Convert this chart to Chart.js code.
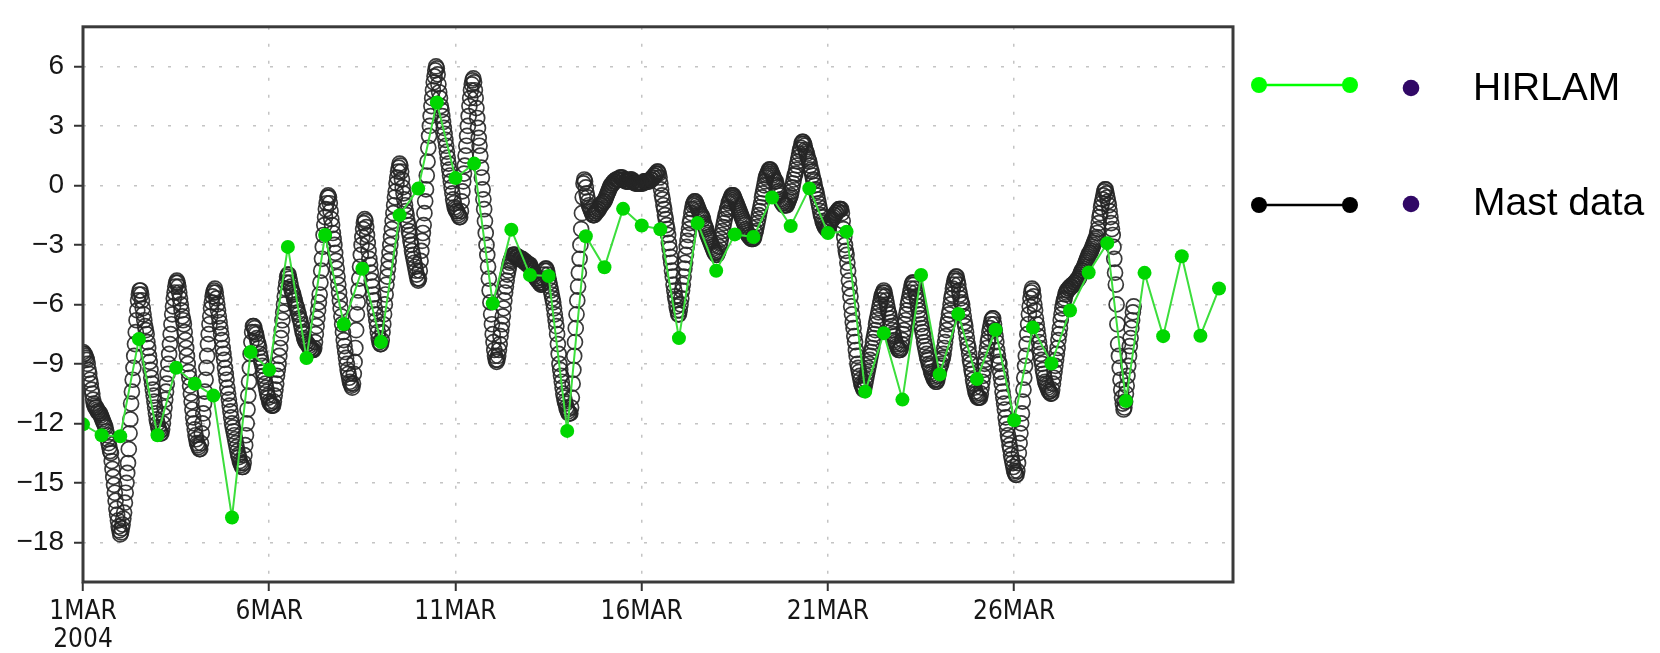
<!DOCTYPE html>
<html>
<head>
<meta charset="utf-8">
<title>HIRLAM vs mast temperature, March 2004</title>
<script src="https://cdn.jsdelivr.net/npm/chart.js@4.4.1/dist/chart.umd.min.js"></script>
<style>
  html, body { margin: 0; padding: 0; background: #fff; }
  #wrap { width: 1660px; height: 653px; }
</style>
</head>
<body>
<div id="wrap"><canvas id="myChart" width="1660" height="653"></canvas></div>
<script>
function $(id) {
  return document.getElementById(id);
}

// x = days since 1 MAR 2004 00Z
const seriesNames = ["HIRLAM", "Mast data"];
const xTickDays = [0, 5, 10, 15, 20, 25];
const xTickLabels = [["1MAR", "2004"], "6MAR", "11MAR", "16MAR", "21MAR", "26MAR"];
const yTickValues = [-18, -15, -12, -9, -6, -3, 0, 3, 6];

// HIRLAM, every 12 h from 1 MAR 00Z
const hirlamTemp = [
  -12.05, -12.6, -12.65, -7.75, -12.6, -9.2, -10.0, -10.6, -16.75, -8.4,
  -9.3, -3.1, -8.7, -2.5, -7.0, -4.2, -7.9, -1.5, -0.16, 4.18,
  0.37, 1.1, -5.95, -2.23, -4.52, -4.57, -12.38, -2.56, -4.13, -1.18,
  -2.02, -2.21, -7.7, -1.9, -4.3, -2.47, -2.6, -0.61, -2.05, -0.15,
  -2.4, -2.33, -10.4, -7.45, -10.8, -4.52, -9.53, -6.48, -9.76, -7.28,
  -11.84, -7.17, -8.98, -6.31, -4.39, -2.91, -10.87, -4.41, -7.6, -3.57,
  -7.58, -5.2
];

// mast, every 30 min from 1 MAR 00Z, one row per day
const mastTemp = [
  -8.4,-8.5,-8.5,-8.6,-8.7,-8.8,-9.0,-9.3,-9.5,-9.8,-10.0,-10.3,-10.5,-10.8,-11.0,-11.1,-11.2,-11.2,-11.3,-11.4,-11.4,-11.5,-11.5,-11.6,-11.7,-11.8,-11.9,-12.0,-12.1,-12.2,-12.4,-12.6,-12.8,-13.0,-13.2,-13.4,-13.5,-13.9,-14.3,-14.7,-15.1,-15.5,-15.9,-16.3,-16.6,-16.9,-17.2,-17.4,
  -17.6,-17.5,-17.3,-17.1,-16.8,-16.5,-16.0,-15.5,-15.0,-14.5,-14.0,-13.3,-12.5,-11.8,-11.0,-10.4,-9.8,-9.2,-8.6,-8.0,-7.4,-6.8,-6.3,-5.8,-5.5,-5.3,-5.3,-5.5,-5.8,-6.2,-6.5,-6.8,-7.1,-7.3,-7.5,-7.9,-8.2,-8.6,-8.9,-9.3,-9.7,-10.0,-10.3,-10.6,-10.9,-11.2,-11.5,-11.8,
  -12.0,-12.2,-12.3,-12.4,-12.5,-12.5,-12.3,-12.0,-11.6,-11.2,-10.8,-10.4,-10.0,-9.5,-9.0,-8.5,-8.0,-7.5,-7.0,-6.5,-6.1,-5.7,-5.4,-5.1,-4.9,-4.8,-4.9,-5.1,-5.4,-5.7,-6.0,-6.3,-6.6,-6.8,-7.0,-7.4,-7.8,-8.2,-8.6,-9.0,-9.4,-9.7,-10.1,-10.5,-10.9,-11.3,-11.7,-12.0,
  -12.3,-12.6,-12.8,-13.0,-13.1,-13.2,-13.3,-13.3,-13.0,-12.5,-12.0,-11.5,-11.0,-10.4,-9.8,-9.2,-8.6,-8.0,-7.5,-7.0,-6.6,-6.2,-5.9,-5.6,-5.4,-5.3,-5.2,-5.4,-5.7,-6.0,-6.3,-6.6,-6.9,-7.2,-7.5,-7.8,-8.2,-8.5,-8.8,-9.2,-9.5,-9.8,-10.2,-10.5,-10.8,-11.1,-11.4,-11.7,
  -12.0,-12.2,-12.4,-12.6,-12.8,-13.0,-13.2,-13.4,-13.6,-13.7,-13.9,-14.0,-14.1,-14.2,-14.2,-14.0,-13.6,-13.1,-12.6,-12.0,-11.3,-10.6,-9.9,-9.2,-8.5,-7.9,-7.4,-7.1,-7.1,-7.2,-7.4,-7.5,-7.7,-7.9,-8.0,-8.2,-8.5,-8.7,-8.9,-9.1,-9.4,-9.6,-9.8,-10.0,-10.2,-10.4,-10.6,-10.7,
  -10.9,-11.0,-11.0,-11.1,-11.1,-11.1,-10.9,-10.6,-10.3,-10.0,-9.6,-9.3,-9.0,-8.6,-8.2,-7.7,-7.3,-6.8,-6.4,-6.0,-5.6,-5.2,-4.9,-4.6,-4.5,-4.5,-4.7,-4.9,-5.1,-5.3,-5.4,-5.5,-5.7,-5.8,-6.0,-6.1,-6.2,-6.4,-6.5,-6.7,-6.8,-7.0,-7.2,-7.4,-7.5,-7.7,-7.8,-7.9,
  -7.9,-8.0,-8.0,-8.1,-8.2,-8.2,-8.3,-8.3,-8.3,-8.3,-8.2,-7.9,-7.5,-7.1,-6.7,-6.3,-5.9,-5.5,-4.9,-4.3,-3.7,-3.1,-2.5,-2.0,-1.6,-1.2,-0.9,-0.6,-0.5,-0.6,-0.9,-1.3,-1.7,-2.0,-2.4,-2.7,-3.0,-3.4,-3.8,-4.2,-4.6,-5.0,-5.4,-5.8,-6.2,-6.6,-7.0,-7.4,
  -7.8,-8.1,-8.4,-8.7,-9.0,-9.3,-9.5,-9.7,-9.9,-10.0,-10.1,-10.2,-10.0,-9.5,-8.9,-8.2,-7.3,-6.5,-5.9,-5.3,-4.7,-4.1,-3.5,-3.0,-2.6,-2.2,-1.9,-1.7,-1.8,-2.1,-2.5,-2.9,-3.3,-3.7,-4.0,-4.4,-4.8,-5.1,-5.5,-5.8,-6.2,-6.5,-6.8,-7.1,-7.4,-7.7,-7.9,-8.0,
  -8.0,-7.8,-7.4,-7.0,-6.5,-6.0,-5.5,-5.0,-4.6,-4.2,-3.8,-3.4,-3.0,-2.6,-2.2,-1.8,-1.4,-1.0,-0.6,-0.3,0.1,0.4,0.7,0.9,1.1,1.0,0.7,0.3,-0.1,-0.4,-0.7,-1.0,-1.3,-1.5,-1.8,-2.0,-2.3,-2.5,-2.8,-3.0,-3.3,-3.5,-3.7,-3.9,-4.1,-4.3,-4.5,-4.7,
  -4.8,-4.7,-4.3,-3.8,-3.3,-2.8,-2.4,-2.0,-1.4,-0.8,-0.2,0.5,1.2,1.9,2.5,3.0,3.5,4.0,4.4,4.8,5.2,5.5,5.8,6.0,5.9,5.6,5.1,4.7,4.4,4.0,3.8,3.5,3.2,2.9,2.6,2.3,2.0,1.7,1.4,1.1,0.8,0.5,0.2,-0.1,-0.4,-0.7,-0.9,-1.1,
  -1.2,-1.3,-1.3,-1.4,-1.5,-1.6,-1.6,-1.3,-0.8,-0.3,0.2,0.6,1.0,1.5,2.0,2.5,3.0,3.5,4.0,4.4,4.8,5.1,5.3,5.4,5.2,4.8,4.4,3.9,3.4,2.9,2.4,2.0,1.5,0.9,0.4,-0.2,-0.7,-1.2,-1.8,-2.4,-3.0,-3.5,-4.1,-4.7,-5.3,-5.9,-6.5,-7.0,
  -7.5,-7.9,-8.3,-8.6,-8.8,-8.9,-8.8,-8.6,-8.3,-8.0,-7.6,-7.3,-7.0,-6.6,-6.2,-5.8,-5.4,-5.1,-4.8,-4.5,-4.3,-4.1,-3.9,-3.8,-3.7,-3.6,-3.5,-3.5,-3.5,-3.5,-3.6,-3.6,-3.6,-3.6,-3.7,-3.7,-3.7,-3.7,-3.7,-3.8,-3.8,-3.8,-3.9,-3.9,-3.9,-4.0,-4.0,-4.0,
  -4.0,-4.1,-4.2,-4.3,-4.4,-4.5,-4.5,-4.6,-4.7,-4.7,-4.8,-4.8,-4.9,-4.9,-5.0,-5.0,-4.9,-4.7,-4.5,-4.3,-4.2,-4.2,-4.3,-4.5,-4.7,-4.9,-5.1,-5.3,-5.5,-5.7,-5.9,-6.2,-6.5,-6.8,-7.1,-7.5,-8.0,-8.5,-9.0,-9.3,-9.6,-9.9,-10.2,-10.5,-10.7,-10.9,-11.0,-11.2,
  -11.3,-11.4,-11.5,-11.5,-11.5,-11.2,-10.7,-10.0,-9.3,-8.6,-7.9,-7.2,-6.5,-5.8,-5.1,-4.4,-3.7,-3.0,-2.2,-1.4,-0.6,0.1,0.3,0.2,-0.1,-0.4,-0.6,-0.8,-1.0,-1.1,-1.2,-1.3,-1.4,-1.5,-1.5,-1.5,-1.4,-1.4,-1.3,-1.3,-1.2,-1.2,-1.1,-1.0,-1.0,-0.9,-0.9,-0.8,
  -0.8,-0.7,-0.6,-0.5,-0.4,-0.3,-0.2,-0.1,0.0,0.0,0.1,0.1,0.2,0.2,0.2,0.3,0.3,0.3,0.3,0.3,0.4,0.4,0.4,0.4,0.3,0.3,0.3,0.2,0.2,0.2,0.2,0.2,0.2,0.3,0.3,0.3,0.2,0.2,0.2,0.1,0.1,0.1,0.1,0.1,0.1,0.1,0.1,0.1,
  0.1,0.1,0.1,0.2,0.2,0.2,0.2,0.2,0.2,0.2,0.2,0.3,0.3,0.3,0.4,0.4,0.5,0.5,0.6,0.6,0.7,0.7,0.6,0.4,0.1,-0.2,-0.5,-0.7,-1.0,-1.2,-1.5,-1.7,-2.0,-2.2,-2.5,-2.9,-3.2,-3.6,-3.9,-4.3,-4.6,-5.0,-5.3,-5.6,-5.8,-6.1,-6.3,-6.5,
  -6.5,-6.3,-6.0,-5.7,-5.3,-5.0,-4.6,-4.2,-3.9,-3.5,-3.1,-2.8,-2.5,-2.2,-1.9,-1.7,-1.4,-1.2,-1.0,-0.9,-0.8,-0.8,-0.9,-1.0,-1.1,-1.2,-1.3,-1.4,-1.5,-1.5,-1.6,-1.7,-1.9,-2.0,-2.1,-2.2,-2.4,-2.5,-2.6,-2.7,-2.8,-2.9,-3.0,-3.1,-3.2,-3.3,-3.4,-3.4,
  -3.5,-3.5,-3.4,-3.3,-3.1,-2.9,-2.7,-2.5,-2.3,-2.1,-1.9,-1.7,-1.5,-1.4,-1.2,-1.1,-0.9,-0.8,-0.7,-0.6,-0.5,-0.5,-0.5,-0.6,-0.7,-0.8,-0.9,-1.0,-1.1,-1.2,-1.3,-1.4,-1.5,-1.6,-1.7,-1.8,-1.9,-2.0,-2.2,-2.3,-2.4,-2.5,-2.5,-2.6,-2.6,-2.7,-2.7,-2.7,
  -2.7,-2.6,-2.4,-2.3,-2.1,-1.9,-1.7,-1.5,-1.3,-1.1,-0.9,-0.6,-0.4,-0.2,0.0,0.2,0.4,0.5,0.6,0.7,0.8,0.8,0.8,0.7,0.6,0.5,0.4,0.3,0.2,0.2,0.0,-0.1,-0.3,-0.4,-0.5,-0.7,-0.8,-0.9,-0.9,-1.0,-1.0,-1.0,-1.0,-1.0,-0.9,-0.8,-0.7,-0.6,
  -0.5,-0.3,-0.1,0.1,0.3,0.5,0.6,0.8,1.0,1.2,1.4,1.6,1.8,1.9,2.1,2.2,2.2,2.1,2.0,1.8,1.7,1.6,1.4,1.3,1.2,1.0,0.8,0.7,0.5,0.3,0.2,0.0,-0.2,-0.3,-0.5,-0.7,-0.9,-1.1,-1.3,-1.5,-1.6,-1.8,-1.9,-2.0,-2.1,-2.1,-2.2,-2.2,
  -2.2,-2.1,-2.0,-1.9,-1.8,-1.7,-1.7,-1.6,-1.5,-1.5,-1.4,-1.4,-1.3,-1.3,-1.2,-1.2,-1.2,-1.2,-1.4,-1.8,-2.2,-2.6,-3.0,-3.3,-3.5,-3.9,-4.3,-4.8,-5.2,-5.6,-6.1,-6.5,-6.9,-7.2,-7.6,-7.9,-8.3,-8.6,-9.0,-9.2,-9.4,-9.6,-9.8,-10.0,-10.1,-10.2,-10.3,-10.2,
  -10.0,-9.8,-9.6,-9.4,-9.2,-9.0,-8.8,-8.6,-8.4,-8.2,-7.9,-7.7,-7.5,-7.3,-7.0,-6.8,-6.6,-6.4,-6.2,-6.0,-5.8,-5.6,-5.5,-5.4,-5.3,-5.4,-5.6,-5.8,-6.0,-6.2,-6.4,-6.5,-6.7,-6.9,-7.1,-7.3,-7.5,-7.6,-7.8,-7.9,-8.0,-8.1,-8.2,-8.3,-8.3,-8.3,-8.2,-8.0,
  -7.8,-7.5,-7.3,-7.0,-6.8,-6.5,-6.3,-6.0,-5.8,-5.6,-5.4,-5.2,-5.0,-4.9,-4.9,-5.0,-5.2,-5.4,-5.6,-5.8,-6.1,-6.3,-6.5,-6.7,-7.0,-7.2,-7.4,-7.6,-7.9,-8.1,-8.3,-8.5,-8.7,-8.8,-9.0,-9.1,-9.2,-9.4,-9.5,-9.6,-9.7,-9.8,-9.8,-9.9,-9.9,-9.8,-9.6,-9.4,
  -9.2,-9.1,-9.0,-8.8,-8.7,-8.5,-8.2,-7.9,-7.6,-7.3,-7.0,-6.8,-6.5,-6.3,-6.0,-5.7,-5.5,-5.2,-5.0,-4.8,-4.7,-4.6,-4.6,-4.8,-5.0,-5.3,-5.5,-5.7,-5.9,-6.0,-6.3,-6.6,-6.9,-7.1,-7.4,-7.7,-8.0,-8.2,-8.5,-8.8,-9.0,-9.3,-9.5,-9.8,-10.0,-10.2,-10.4,-10.5,
  -10.6,-10.7,-10.7,-10.7,-10.7,-10.5,-10.2,-9.9,-9.6,-9.3,-9.0,-8.8,-8.5,-8.2,-7.9,-7.7,-7.4,-7.2,-7.0,-6.8,-6.7,-6.7,-7.0,-7.3,-7.6,-7.9,-8.3,-8.6,-8.9,-9.0,-9.4,-9.7,-10.0,-10.4,-10.7,-11.0,-11.3,-11.7,-12.0,-12.3,-12.6,-12.8,-13.1,-13.3,-13.6,-13.8,-14.0,-14.2,
  -14.4,-14.5,-14.6,-14.6,-14.4,-14.0,-13.5,-13.0,-12.5,-12.0,-11.5,-10.9,-10.3,-9.7,-9.1,-8.6,-8.0,-7.5,-7.0,-6.5,-6.1,-5.7,-5.4,-5.2,-5.3,-5.6,-6.0,-6.3,-6.7,-7.0,-7.3,-7.6,-7.9,-8.2,-8.5,-8.8,-9.0,-9.3,-9.5,-9.7,-9.9,-10.0,-10.1,-10.2,-10.3,-10.4,-10.4,-10.5,
  -10.5,-10.3,-10.0,-9.7,-9.4,-9.1,-8.8,-8.5,-8.2,-7.8,-7.5,-7.2,-6.8,-6.5,-6.2,-6.0,-5.8,-5.7,-5.5,-5.4,-5.3,-5.3,-5.2,-5.2,-5.1,-5.1,-5.1,-5.0,-5.0,-5.0,-4.9,-4.9,-4.8,-4.8,-4.7,-4.7,-4.6,-4.5,-4.4,-4.3,-4.3,-4.2,-4.1,-4.0,-3.9,-3.8,-3.7,-3.6,
  -3.5,-3.4,-3.4,-3.3,-3.2,-3.1,-3.0,-2.9,-2.8,-2.7,-2.6,-2.4,-2.2,-1.9,-1.6,-1.4,-1.1,-0.9,-0.7,-0.5,-0.3,-0.2,-0.2,-0.4,-0.6,-0.8,-1.0,-1.3,-1.6,-1.9,-2.2,-2.5,-3.1,-3.7,-4.4,-5.0,-6.0,-7.0,-8.0,-8.6,-9.2,-9.8,-10.3,-10.7,-11.0,-11.3,-11.2,-10.9,
  -10.5,-10.1,-9.6,-9.1,-8.6,-8.1,-7.7,-7.2,-6.8,-6.4,-6.1
];

const HIRLAM_STEP = 0.5;    // days
const MAST_STEP = 1 / 48;   // days

// Global Options
let cd = Chart.defaults;
cd.font.family = '"Liberation Sans", Arial, sans-serif';
cd.font.size = 28;
cd.color = "#161616";
cd.animation = false;

let myChart = null;

// plot frame + the legend on the right
const frameAndLegend = {
  id: "frameAndLegend",
  afterDraw(chart) {
    const c = chart.ctx;
    const a = chart.chartArea;
    c.save();
    c.strokeStyle = "#3a3a3a";
    c.lineWidth = 3;
    c.strokeRect(a.left, a.top, a.right - a.left, a.bottom - a.top);

    const rows = [
      { y: 85, dotY: 88, textY: 100, color: "#00ff00" },
      { y: 205, dotY: 204, textY: 215, color: "#000000" }
    ];
    rows.forEach((row, i) => {
      c.strokeStyle = row.color;
      c.lineWidth = 2.5;
      c.beginPath();
      c.moveTo(1259, row.y);
      c.lineTo(1350, row.y);
      c.stroke();
      c.fillStyle = row.color;
      [1259, 1350].forEach(x => {
        c.beginPath();
        c.arc(x, row.y, 8, 0, 2 * Math.PI);
        c.fill();
      });
      c.fillStyle = "#310866";
      c.beginPath();
      c.arc(1411, row.dotY, 8.3, 0, 2 * Math.PI);
      c.fill();
      c.fillStyle = "#000";
      c.font = '39px "Liberation Sans", Arial, sans-serif';
      c.textBaseline = "alphabetic";
      c.textAlign = "left";
      c.fillText(chart.data.datasets[i].label, 1473, row.textY);
    });
    c.restore();
  }
};

function minusLabel(v) {
  return v < 0 ? "\u2212" + Math.abs(v) : String(v);
}

function drawChart() {
  const ctx = $("myChart").getContext("2d");
  const hirlam = hirlamTemp.map((v, i) => ({ x: i * HIRLAM_STEP, y: v }));
  const mast = mastTemp.map((v, i) => ({ x: i * MAST_STEP, y: v }));

  myChart = new Chart(ctx, {
    type: "scatter",
    data: {
      datasets: [{
        label: seriesNames[0],
        data: hirlam,
        showLine: true,
        borderColor: "rgb(60, 222, 60)",
        borderWidth: 2,
        pointRadius: 7,
        pointBackgroundColor: "rgb(0, 215, 0)",
        pointBorderWidth: 0,
        clip: 0
      }, {
        label: seriesNames[1],
        data: mast,
        showLine: false,
        pointRadius: 7.5,
        pointBorderColor: "rgba(38, 38, 38, 0.9)",
        pointBackgroundColor: "rgba(0, 0, 0, 0)",
        pointBorderWidth: 1.7,
        clip: 0
      }]
    },
    options: {
      responsive: false,
      layout: { padding: { left: 0, right: 427, top: 10, bottom: 0 } },
      plugins: {
        legend: { display: false },
        tooltip: { enabled: false },
        title: { display: false }
      },
      scales: {
        x: {
          type: "linear",
          min: 0,
          max: 30.875,
          afterBuildTicks: s => { s.ticks = xTickDays.map(v => ({ value: v })); },
          afterFit: s => { s.height = 71; },
          ticks: {
            callback: (v, i) => xTickLabels[i],
            padding: 8,
            maxRotation: 0,
            autoSkip: false,
            font: { family: '"DejaVu Sans Condensed", "Liberation Sans", sans-serif', size: 26, lineHeight: 1.05 }
          },
          grid: {
            color: "#c4c4c4",
            lineWidth: 1.5,
            tickLength: 9,
            tickColor: "#333",
            tickWidth: 2
          },
          border: { display: false, dash: [3, 14] }
        },
        y: {
          min: -20,
          max: 8,
          afterBuildTicks: s => { s.ticks = yTickValues.map(v => ({ value: v })); },
          afterFit: s => { s.width = 83; },
          ticks: {
            callback: v => minusLabel(v),
            padding: 10,
            font: { size: 28 }
          },
          grid: {
            color: "#c4c4c4",
            lineWidth: 1.5,
            tickLength: 9,
            tickColor: "#333",
            tickWidth: 2
          },
          border: { display: false, dash: [3, 14] }
        }
      }
    },
    plugins: [frameAndLegend]
  });
}

window.onload = function() {
  drawChart();
}
</script>
</body>
</html>
